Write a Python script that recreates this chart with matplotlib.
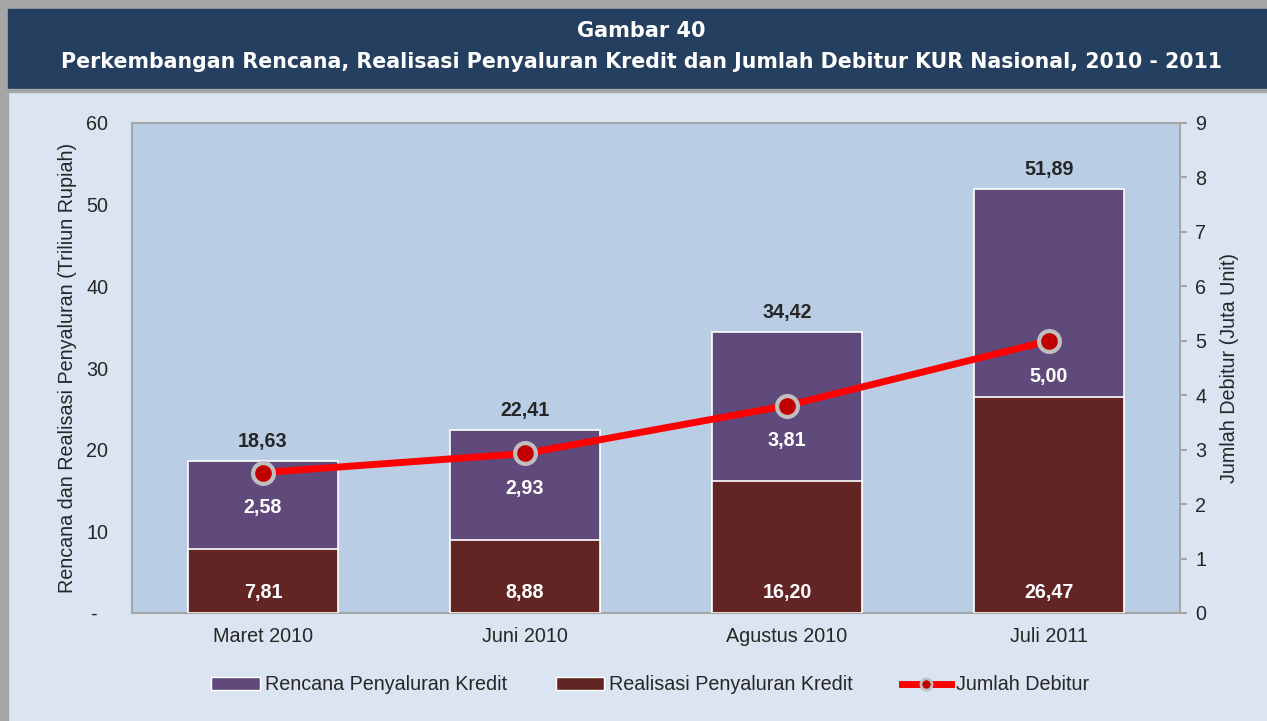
import matplotlib.pyplot as plt
from matplotlib.patches import Rectangle, Patch
from matplotlib.lines import Line2D

categories = ['Maret 2010', 'Juni 2010', 'Agustus 2010', 'Juli 2011']
rencana = [18.63, 22.41, 34.42, 51.89]
realisasi = [7.81, 8.88, 16.20, 26.47]
debitur = [2.58, 2.93, 3.81, 5.00]

def fmt(v):
    return f'{v:.2f}'.replace('.', ',')

plt.rcParams['font.family'] = ['Liberation Sans', 'DejaVu Sans']
FS = 14.2
TXT = '#262626'

fig = plt.figure(figsize=(12.67, 7.21), dpi=100, facecolor='#DBE5F1')

# frame and header band
fig.patches.append(Rectangle((0, 0), 0.0065, 1, transform=fig.transFigure, color='#A6A6A6', zorder=0))
fig.patches.append(Rectangle((0, 0.988), 1, 0.012, transform=fig.transFigure, color='#A6A6A6', zorder=0))
fig.patches.append(Rectangle((0.0065, 0.877), 1, 0.111, transform=fig.transFigure, color='#243F60', zorder=1))
fig.patches.append(Rectangle((0.0065, 0.872), 1, 0.005, transform=fig.transFigure, color='#A6A6A6', zorder=1))
fig.text(0.506, 0.957, 'Gambar 40', ha='center', va='center', color='white',
         fontsize=15, fontweight='bold', family='DejaVu Sans')
fig.text(0.506, 0.914, 'Perkembangan Rencana, Realisasi Penyaluran Kredit dan Jumlah Debitur KUR Nasional, 2010 - 2011',
         ha='center', va='center', color='white', fontsize=14.8, fontweight='bold', family='DejaVu Sans')

ax = fig.add_axes([132 / 1267, 1 - 613 / 721, 1048 / 1267, 490 / 721])
ax.set_facecolor('#B9CDE5')
x = range(len(categories))
w = 0.57
ax.bar(x, rencana, w, color='#604A7B', edgecolor='white', linewidth=1.2, zorder=2)
ax.bar(x, realisasi, w, color='#632523', edgecolor='white', linewidth=1.2, zorder=3)
ax.set_xlim(-0.5, 3.5)
ax.set_ylim(0, 60)
ax.set_yticks(range(0, 61, 10))
ax.set_yticklabels(['-  '] + [str(v) for v in range(10, 61, 10)])
ax.set_xticks(list(x))
ax.set_xticklabels(categories)
ax.tick_params(axis='both', labelsize=FS, colors=TXT, length=0)
ax.tick_params(axis='x', pad=10)
ax.tick_params(axis='y', pad=17)
for s in ax.spines.values():
    s.set_color('#A6A6A6')
    s.set_linewidth(1.5)
ax.set_ylabel('Rencana dan Realisasi Penyaluran (Triliun Rupiah)', fontsize=FS, color=TXT, labelpad=7)

for i in x:
    ax.text(i, rencana[i] + 1.2, fmt(rencana[i]), ha='center', va='bottom',
            fontsize=FS, fontweight='bold', color=TXT, zorder=6)
    ax.text(i, 2.5, fmt(realisasi[i]), ha='center', va='center',
            fontsize=FS, fontweight='bold', color='white', zorder=6)

ax2 = ax.twinx()
ax2.set_ylim(0, 9)
ax2.set_yticks(range(0, 10))
ax2.plot(list(x), debitur, color='#FF0000', linewidth=5, zorder=4,
         marker='o', markersize=15, markerfacecolor='#C00000',
         markeredgecolor='#BFBFBF', markeredgewidth=3)
ax2.tick_params(axis='y', labelsize=FS, labelcolor=TXT, color='#A6A6A6',
                length=5, width=1.5, pad=6)
for s in ax2.spines.values():
    s.set_visible(False)
ax2.set_ylabel('Jumlah Debitur (Juta Unit)', fontsize=FS, color=TXT, labelpad=10)
for i in x:
    ax2.text(i, debitur[i] - 0.65, fmt(debitur[i]), ha='center', va='center',
             fontsize=FS, fontweight='bold', color='white', zorder=6)

handles = [
    Patch(facecolor='#604A7B', edgecolor='white'),
    Patch(facecolor='#632523', edgecolor='white'),
    Line2D([0], [0], color='#FF0000', linewidth=5, marker='o', markersize=8,
           markerfacecolor='#C00000', markeredgecolor='#BFBFBF', markeredgewidth=2),
]
fig.legend(handles, ['Rencana Penyaluran Kredit', 'Realisasi Penyaluran Kredit', 'Jumlah Debitur'],
           loc='center', bbox_to_anchor=(0.513, 1 - 685 / 721), ncol=3, frameon=False,
           fontsize=FS, handlelength=2.45, handletextpad=0.25, columnspacing=2.5,
           handleheight=0.6, labelcolor=TXT)

fig.savefig('out.png', dpi=100, facecolor=fig.get_facecolor())
